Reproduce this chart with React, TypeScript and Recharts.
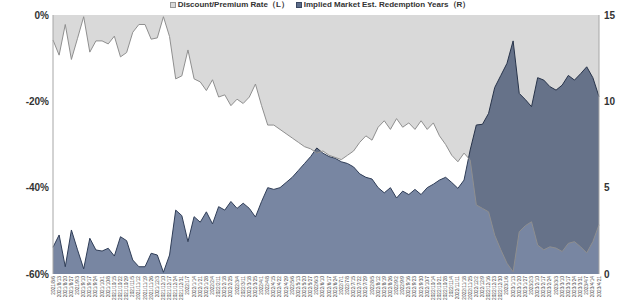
import React from "react";
import { ComposedChart, Area, XAxis, YAxis } from "recharts";

const dates = [
  "2021/8/6","2021/8/13","2021/8/20","2021/8/27","2021/9/3","2021/9/10","2021/9/17","2021/9/24","2021/10/1","2021/10/8",
  "2021/10/15","2021/10/22","2021/10/29","2021/11/5","2021/11/12","2021/11/19","2021/11/26","2021/12/3","2021/12/10","2021/12/17",
  "2021/12/24","2021/12/31","2022/1/7","2022/1/14","2022/1/21","2022/1/28","2022/2/4","2022/2/11","2022/2/18","2022/2/25",
  "2022/3/4","2022/3/11","2022/3/18","2022/3/25","2022/4/1","2022/4/8","2022/4/15","2022/4/22","2022/4/29","2022/5/6",
  "2022/5/13","2022/5/20","2022/5/27","2022/6/3","2022/6/10","2022/6/17","2022/6/24","2022/7/1","2022/7/8","2022/7/15",
  "2022/7/22","2022/7/29","2022/8/5","2022/8/12","2022/8/19","2022/8/26","2022/9/2","2022/9/9","2022/9/16","2022/9/23",
  "2022/9/30","2022/10/7","2022/10/14","2022/10/21","2022/10/28","2022/11/4","2022/11/11","2022/11/18","2022/11/25","2022/12/2",
  "2022/12/9","2022/12/16","2022/12/23","2022/12/30","2023/1/6","2023/1/13","2023/1/20","2023/1/27","2023/2/3","2023/2/10",
  "2023/2/17","2023/2/24","2023/3/3","2023/3/10","2023/3/17","2023/3/24","2023/3/31","2023/4/7","2023/4/14","2023/4/21",
];

const discountRate = [
  -5.8, -9.3, -2.2, -10.3, -5.4, -0.4, -8.6, -6.0, -6.0, -6.7,
  -4.9, -9.7, -8.7, -4.0, -2.2, -2.2, -5.6, -5.3, -0.4, -5.0,
  -14.8, -14.1, -8.1, -14.8, -15.5, -17.5, -15.0, -19.0, -18.5, -21.0,
  -19.5, -20.5, -19.0, -16.0, -21.0, -25.5, -25.5, -26.5, -27.5, -28.5,
  -29.5, -30.5, -31.0, -32.0, -31.5, -32.5, -33.0, -33.5, -32.5, -31.5,
  -29.5, -28.0, -29.0, -26.0, -24.5, -26.5, -24.0, -26.0, -25.0, -26.5,
  -24.5, -26.5, -25.0, -28.0, -30.0, -32.5, -34.0, -32.0, -33.6, -44.0,
  -44.8, -45.6, -51.0, -54.4, -57.5, -59.5, -50.2, -48.8, -47.9, -53.3,
  -54.4, -53.7, -54.0, -54.8, -52.9, -52.5, -53.7, -55.1, -52.5, -48.6,
];

const redemptionYears = [
  1.55, 2.26, 0.42, 2.55, 1.4, 0.3, 2.07, 1.39, 1.33, 1.49,
  1.04, 2.16, 1.93, 0.81, 0.42, 0.42, 1.2, 1.1, 0.1, 1.1,
  3.7, 3.38, 1.87, 3.32, 3.0, 3.6, 2.9, 3.9, 3.7, 4.2,
  3.8, 4.1, 3.8, 3.3, 4.2, 5.0, 4.9, 5.0, 5.3, 5.6,
  6.0, 6.4, 6.8, 7.3, 7.0, 6.8, 6.7, 6.5, 6.4, 6.2,
  5.8, 5.6, 5.5, 5.0, 4.7, 5.0, 4.4, 4.8, 4.6, 4.9,
  4.6, 5.0, 5.2, 5.44, 5.6, 5.3, 4.96, 5.44, 7.18, 8.63,
  8.67, 9.3, 10.8, 11.5, 12.2, 13.5, 10.46, 10.1, 9.69, 11.37,
  11.23, 10.85, 10.65, 10.94, 11.5, 11.23, 11.6, 12.0, 11.37, 10.27,
];

const leftTicks = [0, -20, -40, -60];
const rightTicks = [0, 5, 10, 15];

const seriesNames = ["Discount/Premium Rate（L）", "Implied Market Est. Redemption Years（R）"];

const data = dates.map((d, i) => ({
  date: d,
  discount: discountRate[i],
  years: redemptionYears[i],
}));

const FONT = "'Liberation Sans', Arial, sans-serif";

const DateTick = (props: any) => {
  const { x, y, payload } = props;
  return (
    <g transform={`translate(${x},${y})`}>
      <text
        transform="rotate(-90)"
        textAnchor="end"
        dominantBaseline="central"
        fontSize={4.8}
        fill="#444"
        fontFamily={FONT}
      >
        {payload.value}
      </text>
    </g>
  );
};

const LegendBox = () => (
  <div
    style={{
      position: "absolute",
      top: 0,
      left: 0,
      width: 640,
      height: 10,
      display: "flex",
      justifyContent: "center",
      alignItems: "center",
      fontFamily: FONT,
      fontWeight: "bold",
      fontSize: 8,
      lineHeight: "10px",
      color: "#333",
      gap: 7,
    }}
  >
    <span style={{ display: "flex", alignItems: "center" }}>
      <span style={{ width: 4, height: 4, background: "#d9d9d9", border: "1px solid #999", marginRight: 2 }} />
      {seriesNames[0]}
    </span>
    <span style={{ display: "flex", alignItems: "center" }}>
      <span style={{ width: 4, height: 4, background: "#5d6d8a", border: "1px solid #3a4862", marginRight: 2 }} />
      {seriesNames[1]}
    </span>
  </div>
);

export default function App() {
  return (
    <div style={{ position: "absolute", left: 0, top: 0, width: 640, height: 300, background: "#fff" }}>
      <ComposedChart
        width={640}
        height={300}
        data={data}
        margin={{ top: 15, right: 0, left: 0, bottom: 0 }}
      >
        <XAxis
          dataKey="date"
          interval={0}
          height={26}
          tick={<DateTick />}
          tickLine={false}
          axisLine={false}
          tickSize={0}
          tickMargin={2}
        />
        <YAxis
          yAxisId="left"
          orientation="left"
          width={53}
          domain={[-60, 0]}
          ticks={leftTicks}
          tickFormatter={(v: number) => `${v}%`}
          tick={{ fontSize: 10, fontWeight: "bold", fill: "#333", fontFamily: FONT }}
          tickLine={false}
          tickSize={0}
          tickMargin={4}
          axisLine={{ stroke: "#a6a6a6" }}
        />
        <YAxis
          yAxisId="right"
          orientation="right"
          width={41}
          domain={[0, 15]}
          ticks={rightTicks}
          tick={{ fontSize: 10, fontWeight: "bold", fill: "#333", fontFamily: FONT }}
          tickLine={false}
          tickSize={0}
          tickMargin={5}
          axisLine={{ stroke: "#a6a6a6" }}
        />
        <Area
          yAxisId="right"
          type="linear"
          dataKey="years"
          name={seriesNames[1]}
          fill="#7886a2"
          fillOpacity={1}
          stroke="#2f3d57"
          strokeWidth={1}
          dot={false}
          activeDot={false}
          isAnimationActive={false}
        />
        <Area
          yAxisId="left"
          type="linear"
          dataKey="discount"
          name={seriesNames[0]}
          fill="#000000"
          fillOpacity={0.15}
          stroke="#8f8f8f"
          strokeWidth={1}
          dot={false}
          activeDot={false}
          isAnimationActive={false}
        />
      </ComposedChart>
      <LegendBox />
    </div>
  );
}
